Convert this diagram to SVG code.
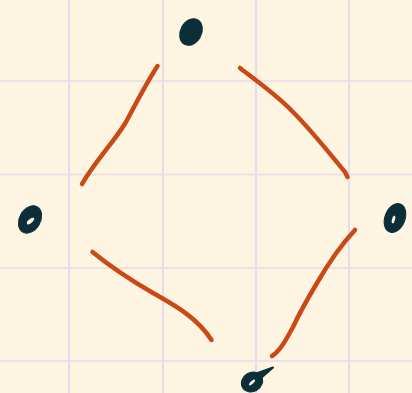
<svg xmlns="http://www.w3.org/2000/svg" width="412" height="393" viewBox="0 0 412 393">
<style>
.gv{stroke:#e4dcee;stroke-width:2;fill:none}
.gh{stroke:#efe1e3;stroke-width:2;fill:none}
.edge{stroke:#c94a17;stroke-width:4.5;fill:none;stroke-linecap:round;stroke-linejoin:round}
.node{fill:#0c2e38;stroke:#0c2e38;stroke-linecap:round;stroke-linejoin:round}
.hole{fill:#fdf4e1}
</style>
<rect width="412" height="393" fill="#fdf5e2"/>
<g id="grid">
<path class="gh" d="M0 81H412M0 174.5H412M0 268H412M0 361H412"/>
<path class="gv" d="M69 0V393M163 0V393M256 0V393M349 0V393"/>
</g>
<g id="connectors" class="edge">
<path d="M157.5 66 C147 82 135 105 126 122 C114 142 96 160 82 184"/>
<path d="M240 68 C258 82 278 96 293 112 C312 131 330 154 345 172 L347.5 177"/>
<path d="M92.5 252 C112 268 134 282 153 293 C172 304 196 316 211.5 340"/>
<path d="M355 230 C340 246 328 264 317 283 C308 298 300 312 293 327 C286 340 280 351 272 356"/>
</g>
<g id="node-top">
<ellipse class="node" cx="191" cy="32" rx="10.5" ry="14" transform="rotate(28 191 32)" stroke-width="1"/>
</g>
<g id="node-left">
<ellipse class="node" cx="30" cy="219.5" rx="10.5" ry="14.5" transform="rotate(30 30 219.5)" stroke-width="1"/>
<ellipse class="hole" cx="30.5" cy="221" rx="2" ry="4.5" transform="rotate(50 30.5 221)"/>
<path d="M31 217 Q36 214 39 219" stroke="#0c2e38" stroke-width="2" fill="none"/>
</g>
<g id="node-right">
<ellipse class="node" cx="395" cy="218" rx="10" ry="15" transform="rotate(22 395 218)" stroke-width="1"/>
<ellipse class="hole" cx="393.5" cy="219.5" rx="1.5" ry="4" transform="rotate(15 393.5 219.5)"/>
</g>
<g id="node-bottom">
<ellipse class="node" cx="252" cy="382" rx="11" ry="9.5" transform="rotate(-30 252 382)" stroke-width="1"/>
<path class="node" d="M255 374 L273 367.5 L261 378 Z" stroke-width="2"/>
<ellipse class="hole" cx="252" cy="382.5" rx="1.4" ry="4" transform="rotate(45 252 382.5)"/>
</g>
</svg>
